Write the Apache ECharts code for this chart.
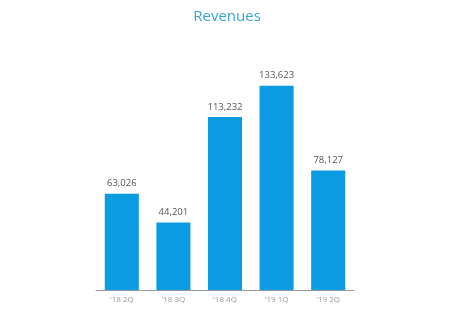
<!DOCTYPE html>
<html><head><meta charset="utf-8">
<script src="https://cdn.jsdelivr.net/npm/echarts@6/dist/echarts.min.js"></script>
<style>html,body{margin:0;padding:0;background:#fff}#c{width:474px;height:310px}</style>
</head><body><div id="c"></div>
<script>
const categories = ["'18 2Q", "'18 3Q", "'18 4Q", "'19 1Q", "'19 2Q"];
const revenues = [63026, 44201, 113232, 133623, 78127];
const chart = echarts.init(document.getElementById('c'));
chart.setOption({
  animation: false,
  title: {
    text: 'Revenues', left: 222, top: 4, textAlign: 'center',
    textStyle: { color: '#35a6d6', fontSize: 15, fontWeight: 'normal', fontFamily: 'Open Sans' }
  },
  grid: { left: 96, width: 258, top: 76, height: 214 },
  xAxis: {
    type: 'category', data: categories,
    axisLine: { lineStyle: { color: '#999', width: 1 } },
    axisTick: { show: false },
    axisLabel: { color: '#999', fontSize: 8, margin: 6, fontFamily: 'Open Sans' }
  },
  yAxis: { type: 'value', min: 0, max: 140000, show: false, splitLine: { show: false } },
  series: [{
    type: 'bar', data: revenues, barCategoryGap: '34%',
    itemStyle: { color: '#0a9be3' },
    label: {
      show: true, position: 'top', distance: 5, color: '#555', fontSize: 9.5,
      fontFamily: 'Open Sans',
      formatter: p => p.value.toLocaleString('en-US')
    }
  }]
});
</script></body></html>
